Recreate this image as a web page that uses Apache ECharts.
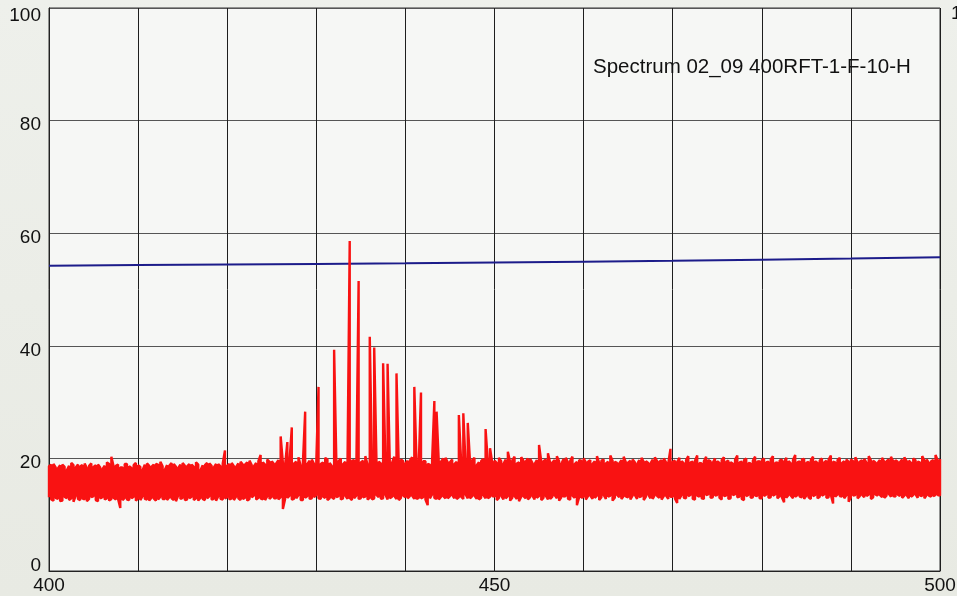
<!DOCTYPE html>
<html>
<head>
<meta charset="utf-8">
<script src="https://cdn.jsdelivr.net/npm/echarts@6/dist/echarts.min.js"></script>
<style>
html,body{margin:0;padding:0;background:#eceee9;}
#chart{width:957px;height:596px;}
</style>
</head>
<body>
<div id="chart"></div>
<script>
// Spectrum, displayed per column as min/max envelope: wavelength = start + index * step
const wavelengthStart = 400;
const wavelengthStep = 0.25;
const bandTop = [
  18.6,18.9,19.0,18.4,18.2,18.8,18.9,18.5,17.9,18.7,19.2,18.8,18.4,18.9,18.6,18.8,19.1,18.3,18.7,19.1,
  18.5,18.8,18.9,18.4,18.1,18.7,19.3,19.0,20.3,18.6,18.7,18.9,18.4,18.4,19.0,19.0,18.6,18.3,18.8,19.2,
  18.8,18.5,17.9,18.9,19.1,18.7,18.5,18.9,19.0,18.9,19.4,18.6,18.0,18.8,18.7,19.2,19.0,18.5,18.3,18.9,
  19.2,18.7,18.6,19.0,18.9,18.5,19.3,18.9,17.9,18.8,18.8,19.2,19.1,18.7,18.4,19.0,19.0,18.6,19.1,21.4,
  18.7,19.0,19.2,18.6,18.5,19.1,19.4,18.9,18.9,19.3,19.6,18.8,18.6,19.2,19.5,20.6,19.3,18.9,19.8,19.4,
  19.5,19.0,19.1,19.7,23.9,19.2,18.8,22.9,19.6,25.5,19.1,19.4,20.2,18.7,19.3,28.3,19.0,19.6,19.8,19.0,
  19.4,32.7,19.0,19.3,20.1,19.8,19.2,18.6,39.3,19.5,19.5,20.0,19.0,19.4,18.8,58.6,19.6,19.7,19.1,51.5,
  19.3,19.6,20.4,18.9,41.6,19.5,39.7,19.8,19.4,19.1,36.9,19.7,36.8,19.2,19.2,20.3,35.1,19.0,19.8,19.5,
  19.1,19.6,19.6,20.2,32.7,19.3,19.0,31.7,19.5,19.5,19.0,18.9,19.7,30.2,28.3,19.2,19.4,20.0,20.1,19.3,
  19.3,19.8,19.0,19.4,27.7,19.6,28.0,19.1,26.3,19.5,19.7,20.1,18.8,19.3,19.5,19.9,25.2,19.4,21.8,19.2,
  19.6,19.2,20.1,19.5,19.0,19.8,21.2,19.4,19.7,20.3,19.1,19.3,20.2,19.6,19.4,20.0,19.9,19.2,19.0,19.7,
  22.4,19.4,19.5,19.8,20.9,19.2,19.3,19.7,20.4,19.5,19.0,19.9,20.1,19.3,19.6,20.3,19.0,19.4,19.7,19.6,
  20.0,19.3,19.4,19.7,19.0,19.5,20.4,19.2,19.6,19.8,19.1,19.4,20.5,19.6,19.4,19.2,19.1,19.7,20.3,19.3,
  19.3,19.6,19.8,19.3,19.0,19.7,20.1,19.4,19.5,19.2,19.1,19.8,20.2,19.5,19.4,19.7,20.0,19.3,19.1,21.7,
  19.4,19.6,19.3,20.1,19.5,19.1,19.7,20.4,19.3,19.4,19.6,20.5,19.2,19.1,19.5,20.3,19.7,19.5,19.2,20.0,
  19.5,19.2,19.7,20.2,19.4,19.6,19.3,19.1,19.8,20.5,19.3,19.4,19.7,20.0,19.2,19.1,19.6,20.3,19.4,19.5,
  19.7,20.0,19.3,19.4,19.8,20.4,19.2,19.3,19.6,19.8,19.4,20.1,19.5,19.1,19.7,20.6,19.3,19.5,19.8,19.9,
  19.2,19.4,19.7,20.3,19.5,19.2,19.6,20.0,19.3,19.6,19.8,20.5,19.4,19.3,19.7,20.1,19.2,19.5,19.8,19.4,
  19.8,19.5,20.2,19.3,19.4,19.7,19.9,19.2,20.4,19.6,19.6,19.3,19.2,19.7,20.1,19.4,19.5,19.8,20.3,19.5,
  19.7,19.4,19.3,19.8,20.2,19.5,19.6,19.2,20.0,19.7,19.4,19.3,20.4,19.6,19.8,19.2,19.5,19.7,20.6,19.6,
  19.9
];
const bandBottom = [
  13.1,12.7,12.5,13.0,12.8,12.4,12.5,13.2,12.9,12.6,12.9,12.3,13.4,12.8,12.6,12.9,12.7,12.4,12.8,13.1,
  13.3,12.6,12.4,12.9,13.1,12.7,12.9,12.5,12.8,13.0,12.7,12.8,11.2,12.6,13.0,12.7,12.6,12.9,13.2,12.5,
  12.9,12.6,13.3,12.8,12.7,12.5,13.0,12.9,12.5,12.7,13.2,12.8,12.8,12.6,13.1,12.9,12.6,12.4,13.4,12.8,
  13.0,12.6,12.7,12.9,13.2,12.6,12.9,12.5,13.0,12.8,12.6,12.9,13.3,12.7,12.8,12.5,13.3,12.8,12.7,12.9,
  13.1,12.7,12.9,12.6,13.2,12.9,12.6,12.8,13.0,12.5,12.8,13.1,13.4,12.7,13.0,12.9,12.7,12.6,13.3,12.8,
  13.2,12.9,12.9,12.7,13.1,11.0,12.8,13.0,13.4,12.7,12.8,12.9,13.5,12.6,12.6,13.0,13.3,12.8,12.9,13.1,
  13.5,12.9,12.8,13.2,13.0,12.6,12.9,13.1,12.8,13.1,13.3,12.7,12.9,13.4,12.8,13.0,12.6,12.9,13.4,12.8,
  12.9,13.1,13.2,12.7,13.0,12.7,12.9,13.5,13.1,12.8,12.9,13.6,12.7,12.9,13.2,13.3,12.8,12.6,13.0,13.4,
  13.1,12.9,13.3,13.4,12.8,12.8,13.0,12.9,13.1,12.7,11.7,12.9,13.6,13.0,12.8,12.7,13.2,13.3,12.9,12.9,
  13.3,13.5,12.9,12.8,13.1,13.2,12.8,13.6,12.9,12.9,13.3,13.4,12.8,12.7,13.0,13.5,12.9,12.9,13.2,13.3,
  13.2,12.6,13.0,13.4,12.7,12.9,13.3,12.5,13.0,13.3,12.8,12.4,13.2,13.3,12.9,12.7,13.1,13.4,12.7,13.0,
  13.3,12.6,13.0,13.4,12.7,12.8,13.2,13.5,12.9,12.5,13.1,13.2,13.3,12.8,12.7,13.4,13.0,11.7,13.1,13.0,
  13.2,12.7,13.3,13.4,12.8,13.0,13.4,12.6,13.1,13.5,12.8,13.2,13.4,12.5,13.0,13.5,13.1,12.8,13.3,13.2,
  13.1,12.7,13.4,13.5,12.8,13.1,13.3,12.6,13.2,13.6,12.9,12.8,13.5,13.3,13.0,12.7,13.3,13.4,12.8,13.2,
  13.2,12.9,12.1,12.8,13.5,13.0,12.9,13.3,13.5,12.8,12.7,13.4,13.2,12.9,12.8,13.5,13.6,13.0,13.1,13.4,
  13.5,13.0,12.7,13.3,13.4,12.8,12.9,13.5,13.6,13.1,13.2,12.8,12.6,13.3,13.5,13.0,13.1,13.4,13.3,12.9,
  12.9,13.3,13.6,13.0,13.1,13.4,13.6,12.9,13.3,13.1,12.2,13.0,13.5,13.4,12.9,13.2,13.5,13.2,13.1,12.8,
  13.4,13.1,12.8,13.3,13.5,12.9,13.2,13.4,13.6,13.0,13.1,13.5,12.0,13.2,13.6,13.3,13.2,12.9,13.5,12.3,
  13.1,13.4,13.5,12.9,13.3,13.5,13.1,13.3,13.6,12.8,13.1,13.6,13.4,13.5,13.1,13.0,13.4,13.7,13.2,13.3,
  13.2,13.6,13.3,13.0,13.4,13.5,12.9,13.2,13.5,13.6,13.0,13.4,13.3,12.9,13.5,13.4,13.2,13.3,13.5,13.5,
  13.4
];

// Reference (blue) trace
const referenceWavelengths = [400,410,420,430,440,450,460,470,480,490,500];
const referenceValues = [54.2,54.35,54.45,54.55,54.65,54.8,54.95,55.1,55.3,55.5,55.75];

const xLabelValues = [400,450,500];
const titleText = 'Spectrum 02_09 400RFT-1-F-10-H';

const FONT = '"Liberation Sans", Arial, sans-serif';

// Each column drawn as a vertical min-max stroke, alternating direction so the path is continuous
const spectrumData = [];
bandTop.forEach((top, k) => {
  const x = wavelengthStart + k * wavelengthStep;
  const low = bandBottom[k];
  if (k % 2 === 0) { spectrumData.push([x, low]); spectrumData.push([x, top]); }
  else { spectrumData.push([x, top]); spectrumData.push([x, low]); }
});
const referenceData = referenceWavelengths.map((x, i) => [x, referenceValues[i]]);

const base = {fontSize: 19, fontFamily: FONT, color: '#111'};
const yLabelRich = {
  a: Object.assign({padding: [9, 0, 0, 0]}, base),
  t: Object.assign({padding: [16, 0, 0, 0]}, base),
  z: Object.assign({padding: [0, 0, 11, 0]}, base),
  r: Object.assign({padding: [11, 0, 0, 0]}, base)
};
function yFmt(v) {
  if (v === 100) return '{t|' + v + '}';
  if (v === 0) return '{z|' + v + '}';
  return '{a|' + v + '}';
}

const chart = echarts.init(document.getElementById('chart'), null, {renderer: 'canvas'});
chart.setOption({
  animation: false,
  backgroundColor: {
    type: 'linear', x: 0, y: 0, x2: 0, y2: 1,
    colorStops: [{offset: 0, color: '#eef0eb'}, {offset: 1, color: '#e8eae3'}]
  },
  title: {
    text: titleText,
    left: 593, top: 57, padding: 0,
    textStyle: {fontSize: 20.5, fontWeight: 'normal', color: '#111', fontFamily: FONT}
  },
  grid: {
    left: 49, right: 17, top: 8, bottom: 25,
    outerBoundsMode: 'none', containLabel: false,
    show: true, backgroundColor: '#f6f7f5', borderColor: '#333', borderWidth: 1
  },
  xAxis: {
    type: 'value', min: 400, max: 500, interval: 10,
    axisLine: {show: true, lineStyle: {color: '#222', width: 1}},
    axisTick: {show: false},
    axisLabel: {
      margin: 5, fontSize: 19, fontFamily: FONT, color: '#111',
      showMinLabel: true, showMaxLabel: true, hideOverlap: false,
      formatter: v => (xLabelValues.indexOf(v) >= 0 ? String(v) : '')
    },
    splitLine: {show: true, lineStyle: {color: '#1e1e1e', width: 1}}
  },
  yAxis: [{
    type: 'value', min: 0, max: 100, interval: 20, position: 'left',
    axisLine: {show: true, lineStyle: {color: '#222', width: 1}},
    axisTick: {show: false},
    axisLabel: {margin: 8, formatter: yFmt, rich: yLabelRich},
    splitLine: {show: true, lineStyle: {color: '#555', width: 1}}
  }, {
    type: 'value', min: 0, max: 100, interval: 20, position: 'right',
    axisLine: {show: false}, axisTick: {show: false},
    axisLabel: {margin: 11, formatter: v => (v === 100 ? '{r|100}' : ''), rich: yLabelRich},
    splitLine: {show: false}
  }],
  series: [{
    name: 'reference', type: 'line', data: referenceData,
    showSymbol: false, symbol: 'none',
    lineStyle: {color: '#1c1c8a', width: 2}, z: 3
  }, {
    name: 'spectrum', type: 'line', data: spectrumData,
    showSymbol: false, symbol: 'none', sampling: null,
    lineStyle: {color: '#f91212', width: 2.4}, z: 4
  }]
});
</script>
</body>
</html>
